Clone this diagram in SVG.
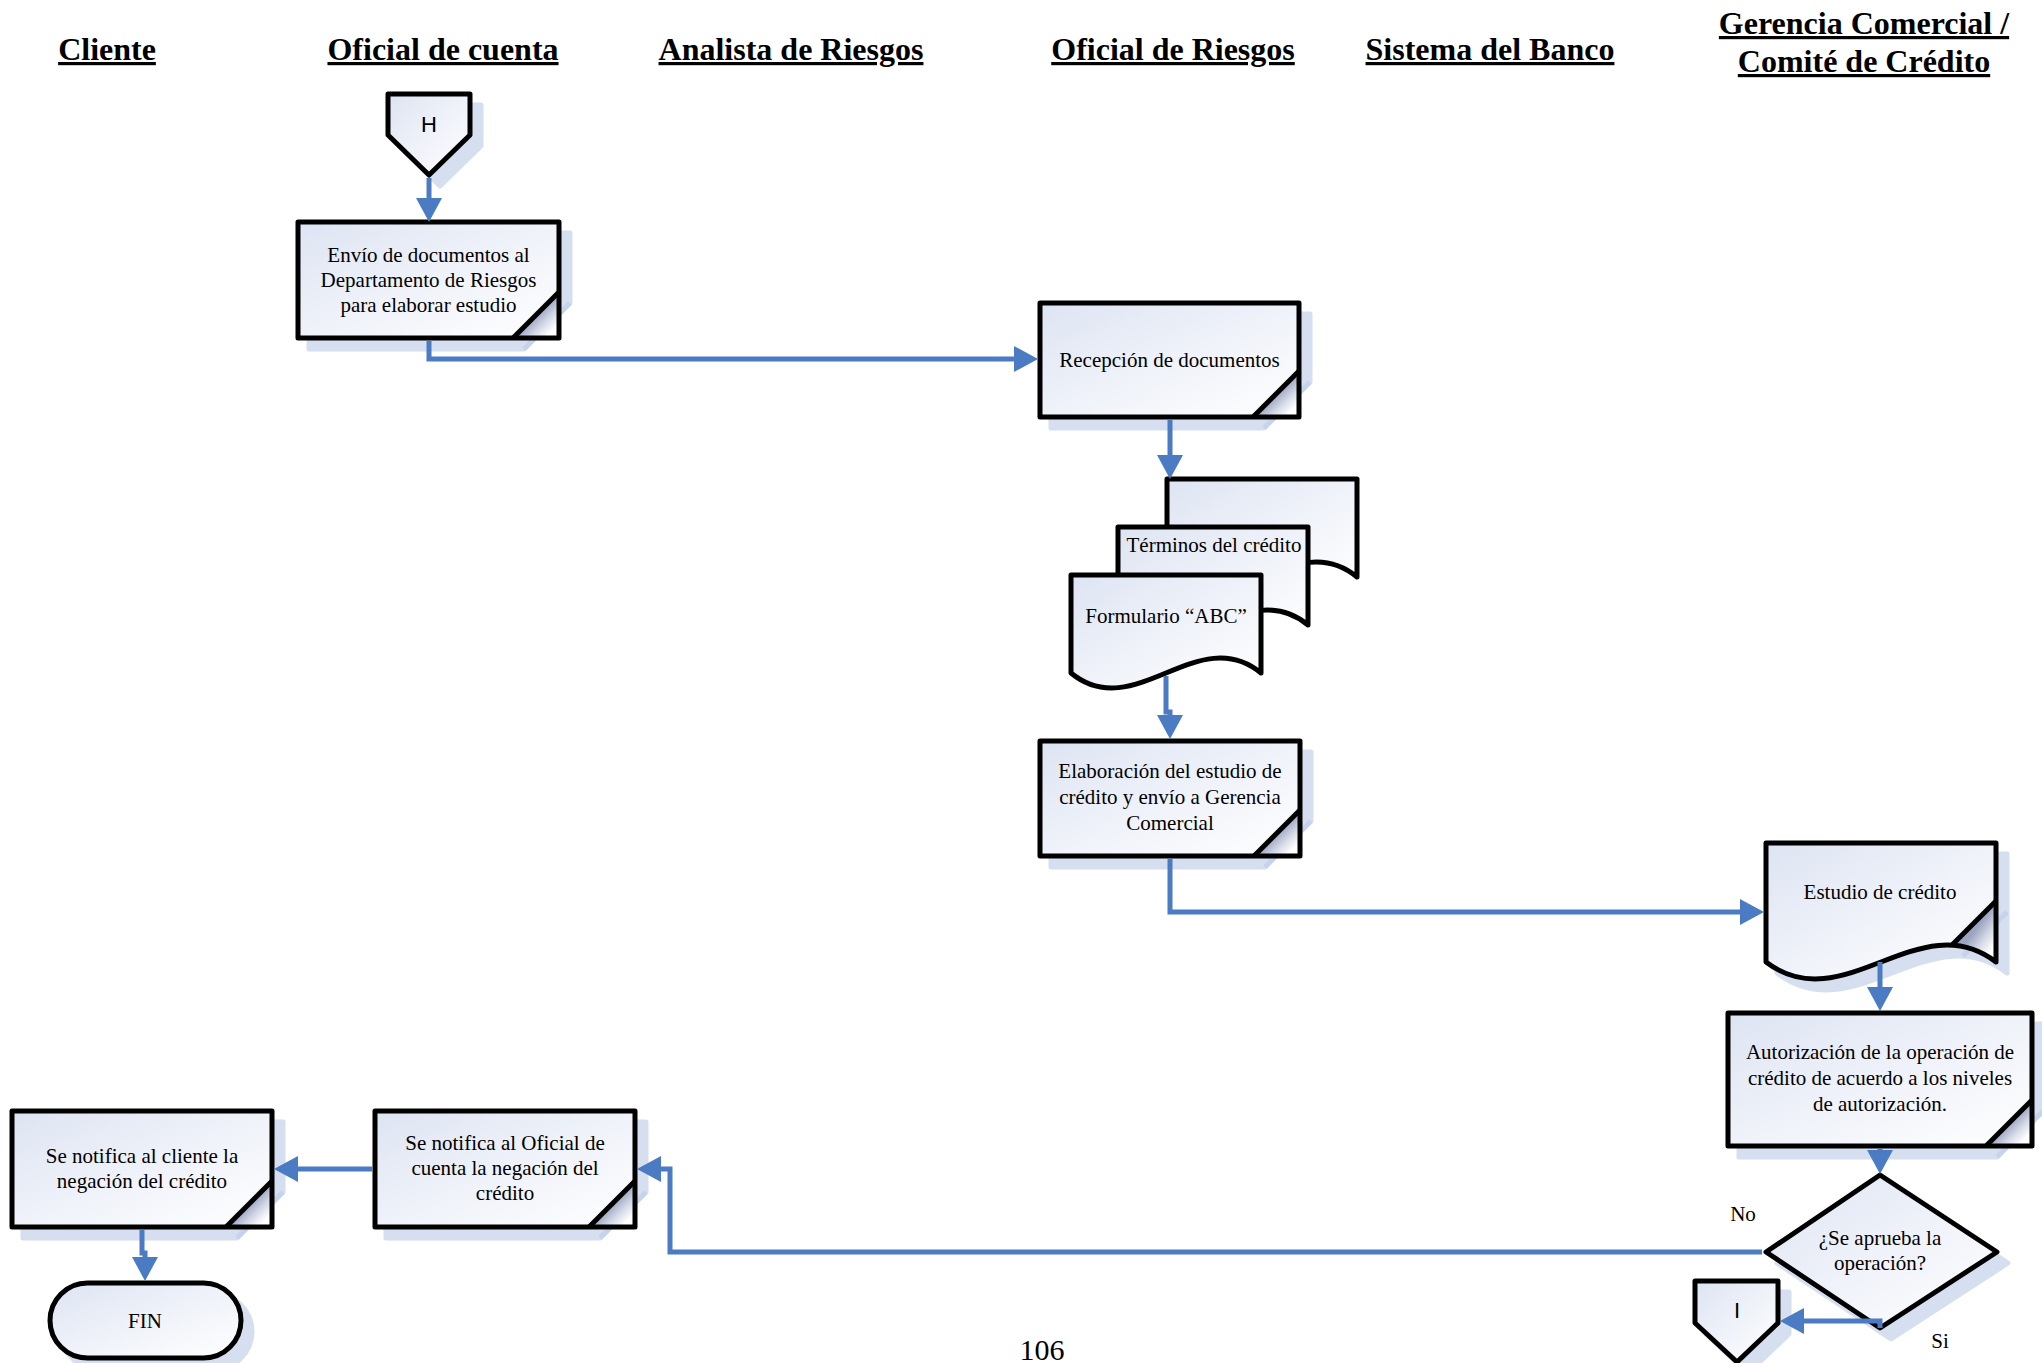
<svg xmlns="http://www.w3.org/2000/svg" width="2042" height="1363" viewBox="0 0 2042 1363">
  <style>
    .hdr { font-family: "Liberation Serif", "Times New Roman", serif; font-size: 32px; font-weight: bold; text-anchor: middle; text-decoration: underline; fill: #000; }
    .t { font-family: "Liberation Serif", "Times New Roman", serif; font-size: 21px; text-anchor: middle; fill: #000; }
    .s { font-family: "Liberation Sans", Arial, sans-serif; font-size: 22px; text-anchor: middle; fill: #000; }
    .pg { font-family: "Liberation Serif", "Times New Roman", serif; font-size: 30px; text-anchor: middle; fill: #000; }
    .shadow { fill: #d6dff0; stroke: #d6dff0; stroke-width: 5; stroke-linejoin: round; }
    .sline { stroke: #c6d3ec; stroke-width: 5; fill: none; }
    .body { fill: url(#fillg); stroke: none; }
    .edge { fill: none; stroke: #000; stroke-width: 5; stroke-linejoin: round; }
    .shape { fill: url(#fillg); stroke: #000; stroke-width: 5; stroke-linejoin: round; }
    .fold { fill: url(#foldg); }
    .conn { fill: none; stroke: #4a7bc3; stroke-width: 5; stroke-linejoin: miter; }
  </style>
  <defs>
    <linearGradient id="fillg" x1="0" y1="0" x2="1" y2="1">
      <stop offset="0" stop-color="#dde4f2"/>
      <stop offset="0.5" stop-color="#eff2f9"/>
      <stop offset="1" stop-color="#ffffff"/>
    </linearGradient>
    <!-- page-curl shading of the folded corner -->
    <linearGradient id="foldg" x1="0.5" y1="0.5" x2="0.85" y2="0.85">
      <stop offset="0" stop-color="#9ba4c0"/>
      <stop offset="0.5" stop-color="#d3d8e6"/>
      <stop offset="1" stop-color="#ffffff"/>
    </linearGradient>
    <marker id="arrow" viewBox="0 0 24 26" refX="19" refY="13" markerWidth="24" markerHeight="26" markerUnits="userSpaceOnUse" orient="auto">
      <path d="M0 0 L24 13 L0 26 Z" fill="#4a7bc3"/>
    </marker>
  </defs>

  <!-- Lane headers -->
  <g id="headers">
    <text class="hdr" x="107" y="60">Cliente</text>
    <text class="hdr" x="443" y="60">Oficial de cuenta</text>
    <text class="hdr" x="791" y="60">Analista de Riesgos</text>
    <text class="hdr" x="1173" y="60">Oficial de Riesgos</text>
    <text class="hdr" x="1490" y="60">Sistema del Banco</text>
    <text class="hdr" x="1864" y="34">Gerencia Comercial /</text>
    <text class="hdr" x="1864" y="72">Comité de Crédito</text>
  </g>

  <!-- Off-page connector H -->
  <g id="conector-h">
    <polygon class="shadow" transform="translate(11,11)" points="388,94 470,94 470,135 429,175 388,135"/>
    <polygon class="shape" points="388,94 470,94 470,135 429,175 388,135"/>
    <text class="s" x="429" y="132">H</text>
  </g>

  <!-- Envío de documentos -->
  <g id="envio-documentos">
    <path class="shadow" transform="translate(11,11)" d="M298 222 H559 V292 L513 338 H298 Z"/>
    <line class="sline" x1="570" y1="303" x2="524" y2="349"/>
    <rect class="body" x="298" y="222" width="261" height="116"/>
    <polygon class="fold" points="559,292 559,338 513,338"/>
    <rect class="edge" x="298" y="222" width="261" height="116"/>
    <line class="edge" x1="559" y1="292" x2="513" y2="338"/>
    <text class="t" x="428.5" y="262">Envío de documentos al</text>
    <text class="t" x="428.5" y="287">Departamento de Riesgos</text>
    <text class="t" x="428.5" y="312">para elaborar estudio</text>
  </g>

  <!-- Recepción de documentos -->
  <g id="recepcion-documentos">
    <path class="shadow" transform="translate(11,11)" d="M1040 303 H1299 V371 L1253 417 H1040 Z"/>
    <line class="sline" x1="1310" y1="382" x2="1264" y2="428"/>
    <rect class="body" x="1040" y="303" width="259" height="114"/>
    <polygon class="fold" points="1299,371 1299,417 1253,417"/>
    <rect class="edge" x="1040" y="303" width="259" height="114"/>
    <line class="edge" x1="1299" y1="371" x2="1253" y2="417"/>
    <text class="t" x="1169.5" y="367">Recepción de documentos</text>
  </g>

  <!-- Document stack -->
  <g id="documentos">
    <path class="shape" d="M1167 479 H1357 V577 C1293.7 525 1230.3 629 1167 577 Z"/>
    <path class="shape" d="M1118 527 H1308 V625 C1244.7 573 1181.3 677 1118 625 Z"/>
    <path class="shape" d="M1071 575 H1261 V673 C1197.7 621 1134.3 725 1071 673 Z"/>
    <text class="t" x="1214" y="552">Términos del crédito</text>
    <text class="t" x="1166" y="623">Formulario “ABC”</text>
  </g>

  <!-- Elaboración del estudio -->
  <g id="elaboracion-estudio">
    <path class="shadow" transform="translate(11,11)" d="M1040 741 H1300 V810 L1254 856 H1040 Z"/>
    <line class="sline" x1="1311" y1="821" x2="1265" y2="867"/>
    <rect class="body" x="1040" y="741" width="260" height="115"/>
    <polygon class="fold" points="1300,810 1300,856 1254,856"/>
    <rect class="edge" x="1040" y="741" width="260" height="115"/>
    <line class="edge" x1="1300" y1="810" x2="1254" y2="856"/>
    <text class="t" x="1170" y="778">Elaboración del estudio de</text>
    <text class="t" x="1170" y="804">crédito y envío a Gerencia</text>
    <text class="t" x="1170" y="830">Comercial</text>
  </g>

  <!-- Estudio de crédito (document) -->
  <g id="estudio-credito">
    <path class="shadow" transform="translate(11,11)" d="M1766 843 H1996 V962 C1919.3 903 1842.7 1021 1766 962 Z"/>
    <line class="sline" x1="2007" y1="912" x2="1963" y2="956"/>
    <path class="body" d="M1766 843 H1996 V962 C1919.3 903 1842.7 1021 1766 962 Z"/>
    <path class="fold" d="M1996 901 L1952 945 Q1976 946.5 1996 962 Z"/>
    <path class="edge" d="M1766 843 H1996 V962 C1919.3 903 1842.7 1021 1766 962 Z"/>
    <line class="edge" x1="1996" y1="901" x2="1952" y2="945"/>
    <text class="t" x="1880" y="899">Estudio de crédito</text>
  </g>

  <!-- Autorización de la operación -->
  <g id="autorizacion">
    <path class="shadow" transform="translate(11,11)" d="M1728 1013 H2032 V1100 L1986 1146 H1728 Z"/>
    <line class="sline" x1="2043" y1="1111" x2="1997" y2="1157"/>
    <rect class="body" x="1728" y="1013" width="304" height="133"/>
    <polygon class="fold" points="2032,1100 2032,1146 1986,1146"/>
    <rect class="edge" x="1728" y="1013" width="304" height="133"/>
    <line class="edge" x1="2032" y1="1100" x2="1986" y2="1146"/>
    <text class="t" x="1880" y="1059">Autorización de la operación de</text>
    <text class="t" x="1880" y="1085">crédito de acuerdo a los niveles</text>
    <text class="t" x="1880" y="1111">de autorización.</text>
  </g>

  <!-- Decision -->
  <g id="decision">
    <polygon class="shadow" transform="translate(11,11)" points="1880,1175 1997,1252 1880,1328 1766,1252"/>
    <polygon class="shape" points="1880,1175 1997,1252 1880,1328 1766,1252"/>
    <text class="t" x="1880" y="1245">¿Se aprueba la</text>
    <text class="t" x="1880" y="1270">operación?</text>
  </g>

  <!-- Se notifica al Oficial de cuenta -->
  <g id="notifica-oficial">
    <path class="shadow" transform="translate(11,11)" d="M375 1111 H635 V1181 L589 1227 H375 Z"/>
    <line class="sline" x1="646" y1="1192" x2="600" y2="1238"/>
    <rect class="body" x="375" y="1111" width="260" height="116"/>
    <polygon class="fold" points="635,1181 635,1227 589,1227"/>
    <rect class="edge" x="375" y="1111" width="260" height="116"/>
    <line class="edge" x1="635" y1="1181" x2="589" y2="1227"/>
    <text class="t" x="505" y="1150">Se notifica al Oficial de</text>
    <text class="t" x="505" y="1175">cuenta la negación del</text>
    <text class="t" x="505" y="1200">crédito</text>
  </g>

  <!-- Se notifica al cliente -->
  <g id="notifica-cliente">
    <path class="shadow" transform="translate(11,11)" d="M12 1111 H272 V1181 L226 1227 H12 Z"/>
    <line class="sline" x1="283" y1="1192" x2="237" y2="1238"/>
    <rect class="body" x="12" y="1111" width="260" height="116"/>
    <polygon class="fold" points="272,1181 272,1227 226,1227"/>
    <rect class="edge" x="12" y="1111" width="260" height="116"/>
    <line class="edge" x1="272" y1="1181" x2="226" y2="1227"/>
    <text class="t" x="142" y="1163">Se notifica al cliente la</text>
    <text class="t" x="142" y="1188">negación del crédito</text>
  </g>

  <!-- Terminator -->
  <g id="fin">
    <rect class="shadow" transform="translate(11,11)" x="50" y="1283" width="191" height="75" rx="37.5"/>
    <rect class="shape" x="50" y="1283" width="191" height="75" rx="37.5"/>
    <text class="t" x="145" y="1328">FIN</text>
  </g>

  <!-- Off-page connector I -->
  <g id="conector-i">
    <polygon class="shadow" transform="translate(11,11)" points="1695,1281 1778,1281 1778,1323 1737,1362 1695,1323"/>
    <polygon class="shape" points="1695,1281 1778,1281 1778,1323 1737,1362 1695,1323"/>
    <text class="s" x="1737" y="1318">I</text>
  </g>

  <!-- Connectors -->
  <g id="connectors">
    <path class="conn" marker-end="url(#arrow)" d="M429 178 V217"/>
    <path class="conn" marker-end="url(#arrow)" d="M429 341 V359 H1033"/>
    <path class="conn" marker-end="url(#arrow)" d="M1170 420 V474"/>
    <path class="conn" marker-end="url(#arrow)" d="M1166 676 V712 H1170 V734"/>
    <path class="conn" marker-end="url(#arrow)" d="M1170 859 V912 H1759"/>
    <path class="conn" marker-end="url(#arrow)" d="M1880 962 V1006"/>
    <path class="conn" marker-end="url(#arrow)" d="M1880 1149 V1169"/>
    <path class="conn" marker-end="url(#arrow)" d="M1762 1252 H670 V1169 H642"/>
    <path class="conn" marker-end="url(#arrow)" d="M372 1169 H279"/>
    <path class="conn" marker-end="url(#arrow)" d="M142 1230 V1253 H145 V1276"/>
    <path class="conn" marker-end="url(#arrow)" d="M1880 1328 V1321 H1785"/>
  </g>

  <!-- Branch labels and page number -->
  <g id="labels">
    <text class="t" x="1743" y="1221">No</text>
    <text class="t" x="1940" y="1348">Si</text>
    <text class="pg" x="1042" y="1360">106</text>
  </g>
</svg>
